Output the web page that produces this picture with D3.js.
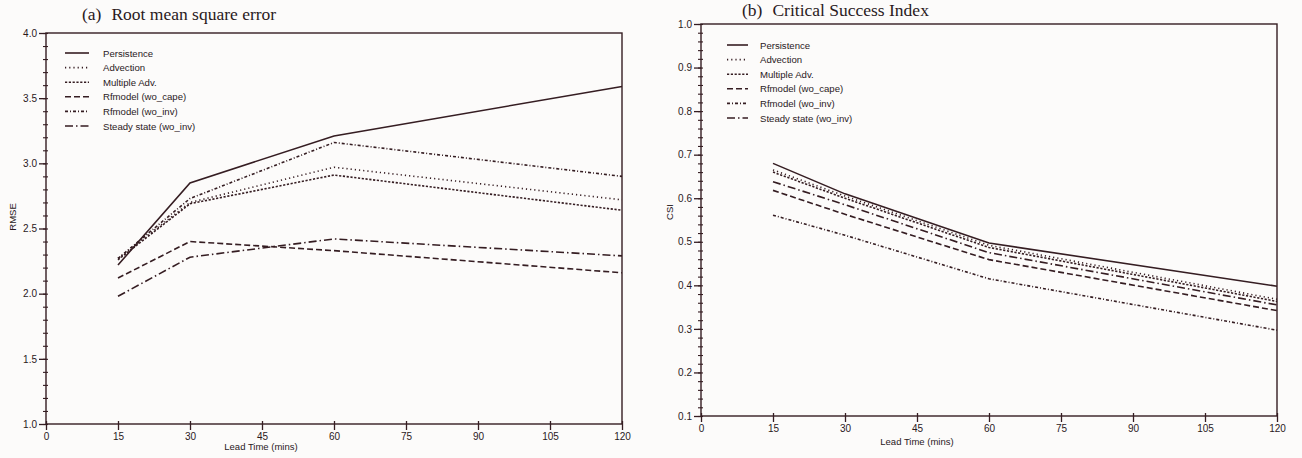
<!DOCTYPE html>
<html>
<head>
<meta charset="utf-8">
<script src="https://cdn.jsdelivr.net/npm/d3@7"></script>
<style>
  body { margin: 0; background: #fcfbfa; }
  svg { display: block; }
  text { fill: #2a191c; }
</style>
</head>
<body>
<div id="chartDiv"></div>
<script>
// lead times (mins) where each method was scored
const leadTimes = [15, 30, 60, 120];
const seriesNames = ["Persistence", "Advection", "Multiple Adv.", "Rfmodel (wo_cape)", "Rfmodel (wo_inv)", "Steady state (wo_inv)"];
const xTicks = [0, 15, 30, 45, 60, 75, 90, 105, 120];

// (a) RMSE
const rmsePersistence = [2.22, 2.85, 3.21, 3.59];
const rmseAdvection   = [2.27, 2.70, 2.97, 2.72];
const rmseMultiAdv    = [2.26, 2.69, 2.91, 2.64];
const rmseWoCape      = [2.12, 2.40, 2.33, 2.16];
const rmseWoInv       = [2.27, 2.73, 3.16, 2.90];
const rmseSteady      = [1.98, 2.28, 2.42, 2.29];

// (b) CSI
const csiPersistence = [0.680, 0.610, 0.497, 0.398];
const csiAdvection   = [0.665, 0.605, 0.492, 0.368];
const csiMultiAdv    = [0.660, 0.600, 0.487, 0.363];
const csiWoCape      = [0.618, 0.563, 0.459, 0.342];
const csiWoInv       = [0.561, 0.515, 0.415, 0.297];
const csiSteady      = [0.638, 0.585, 0.475, 0.355];

const ink = "#351d22";
const dashes = ["none", "1.2,3", "2.2,1.6", "6,3", "3,2,1,2", "8,3,1.5,3"];
const sans = 'Liberation Sans, Arial, sans-serif';

const svgObj = d3.select('#chartDiv').append('svg')
    .attr('width', 1302)
    .attr('height', 458);

function buildPanel(cfg){
    const x = d3.scaleLinear().domain([0, 120]).range([cfg.left, cfg.right]);
    const y = d3.scaleLinear().domain(cfg.yDomain).range([cfg.bottom, cfg.top]);
    const g = svgObj.append('g');

    // frame
    g.append('rect')
        .attr('x', cfg.left).attr('y', cfg.top)
        .attr('width', cfg.right - cfg.left).attr('height', cfg.bottom - cfg.top)
        .attr('fill', 'none').attr('stroke', ink).attr('stroke-width', 1.4);

    // y minor ticks
    g.append('g')
        .attr('transform', `translate(${cfg.left},0)`)
        .call(d3.axisLeft(y).tickValues(d3.range(cfg.yDomain[0], cfg.yDomain[1] + 1e-9, cfg.minorStep)).tickSize(3).tickFormat(''))
        .call(a => a.select('.domain').remove())
        .call(a => a.selectAll('line').attr('x2', 2).attr('x1', -3).attr('stroke', ink).attr('stroke-width', 1.1));

    // y major ticks
    g.append('g')
        .attr('transform', `translate(${cfg.left},0)`)
        .call(d3.axisLeft(y).tickValues(cfg.yTicks).tickSize(7).tickPadding(2).tickFormat(d3.format('.1f')))
        .call(a => a.select('.domain').remove())
        .call(a => a.selectAll('line').attr('stroke', ink).attr('stroke-width', 1.3))
        .call(a => a.selectAll('text').attr('font-family', sans).attr('font-size', 10).attr('fill', '#2a191c'));

    // x ticks
    g.append('g')
        .attr('transform', `translate(0,${cfg.bottom})`)
        .call(d3.axisBottom(x).tickValues(xTicks).tickSize(6).tickPadding(3))
        .call(a => a.select('.domain').remove())
        .call(a => a.selectAll('line').attr('y1', -3).attr('stroke', ink).attr('stroke-width', 1.3))
        .call(a => a.selectAll('text').attr('font-family', sans).attr('font-size', 10).attr('fill', '#2a191c'));

    // title
    const title = g.append('text')
        .attr('x', cfg.titleX).attr('y', cfg.titleY)
        .attr('font-family', 'Liberation Serif, Times New Roman, serif')
        .attr('font-size', 17.5);
    title.append('tspan').text(cfg.tag);
    title.append('tspan').attr('dx', 10).text(cfg.title);

    g.append('text')
        .attr('transform', `translate(${cfg.yLabelX},${cfg.yLabelY}) rotate(-90)`)
        .attr('text-anchor', 'middle')
        .attr('font-family', sans).attr('font-size', 9.5)
        .text(cfg.yLabel);

    g.append('text')
        .attr('x', cfg.xLabelX).attr('y', cfg.xLabelY)
        .attr('text-anchor', 'middle')
        .attr('font-family', sans).attr('font-size', 9.5)
        .text('Lead Time (mins)');

    // series lines
    const line = d3.line().x((d, i) => x(leadTimes[i])).y(d => y(d));
    g.selectAll('.series')
        .data(cfg.series)
        .enter().append('path')
        .attr('class', 'series')
        .attr('d', d => line(d))
        .attr('fill', 'none')
        .attr('stroke', ink)
        .attr('stroke-width', 1.6)
        .attr('stroke-dasharray', (d, i) => dashes[i]);

    // legend
    const leg = g.selectAll('.leg')
        .data(seriesNames)
        .enter().append('g')
        .attr('class', 'leg')
        .attr('transform', (d, i) => `translate(0,${cfg.legY + i * cfg.legStep})`);
    leg.append('line')
        .attr('x1', cfg.legX).attr('x2', cfg.legX + cfg.legLen)
        .attr('stroke', ink).attr('stroke-width', 1.6)
        .attr('stroke-dasharray', (d, i) => dashes[i]);
    leg.append('text')
        .attr('x', cfg.legText).attr('y', 3.5)
        .attr('font-family', sans).attr('font-size', 9.6)
        .text(d => d);
}

buildPanel({
    left: 46, right: 622, top: 33, bottom: 424,
    yDomain: [1.0, 4.0], yTicks: [1.0, 1.5, 2.0, 2.5, 3.0, 3.5, 4.0], minorStep: 0.1,
    tag: '(a)', title: 'Root mean square error', titleX: 82, titleY: 20,
    yLabel: 'RMSE', yLabelX: 16, yLabelY: 217,
    xLabelX: 261, xLabelY: 450,
    legX: 65, legLen: 24, legText: 103, legY: 53, legStep: 14.6,
    series: [rmsePersistence, rmseAdvection, rmseMultiAdv, rmseWoCape, rmseWoInv, rmseSteady]
});

buildPanel({
    left: 701, right: 1277, top: 24, bottom: 416,
    yDomain: [0.1, 1.0], yTicks: [0.1, 0.2, 0.3, 0.4, 0.5, 0.6, 0.7, 0.8, 0.9, 1.0], minorStep: 0.02,
    tag: '(b)', title: 'Critical Success Index', titleX: 742, titleY: 16,
    yLabel: 'CSI', yLabelX: 673, yLabelY: 212,
    xLabelX: 917, xLabelY: 445,
    legX: 727, legLen: 21, legText: 760, legY: 45, legStep: 14.6,
    series: [csiPersistence, csiAdvection, csiMultiAdv, csiWoCape, csiWoInv, csiSteady]
});
</script>
</body>
</html>
